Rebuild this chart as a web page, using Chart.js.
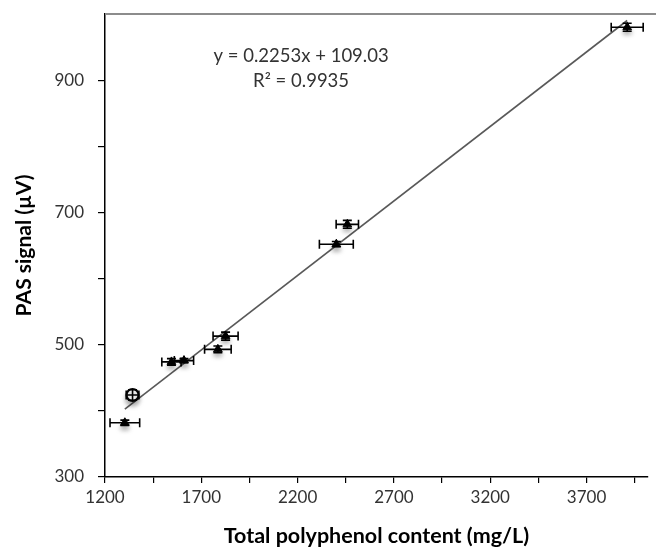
<!DOCTYPE html>
<html>
<head>
<meta charset="utf-8">
<script src="https://cdn.jsdelivr.net/npm/chart.js@4"></script>
<style>body{margin:0;background:#fff}</style>
</head>
<body>
<canvas id="pas-chart" width="656" height="549"></canvas>
<script>
// measured samples
const polyphenol = [1303, 1343, 1545, 1610, 1786, 1826, 2401, 2458, 3911];
const pasSignal = [382, 424, 474, 476, 493, 513, 652, 682, 980];
const polyphenolErr = [77, 33, 50, 50, 69, 65, 88, 58, 83];
const pasErr = [4, 8, 5, 3, 5, 6, 4, 6, 6];

// linear fit shown on the chart
const slope = 0.2253;
const intercept = 109.03;
const rSquared = 0.9935;

const xTickLabels = ['1200', '1700', '2200', '2700', '3200', '3700'];
const yTickLabels = ['300', '500', '700', '900'];

const points = polyphenol.map((x, i) => ({ x: x, y: pasSignal[i] }));
const minX = Math.min(...polyphenol);
const maxX = Math.max(...polyphenol);
const trendPoints = [minX, maxX].map(x => ({ x: x, y: slope * x + intercept }));

const markerShadow = {
    id: 'markerShadow',
    beforeDatasetDraw(chart, args) {
        if (args.index !== 0) return;
        const ctx = chart.ctx;
        ctx.save();
        ctx.shadowColor = 'rgba(0,0,0,0.35)';
        ctx.shadowBlur = 5;
        ctx.shadowOffsetY = 4;
    },
    afterDatasetDraw(chart, args) {
        if (args.index === 0) chart.ctx.restore();
    }
};

const errorBars = {
    id: 'errorBars',
    afterDatasetsDraw(chart) {
        const ctx = chart.ctx;
        const xs = chart.scales.x;
        const ys = chart.scales.y;
        const cap = 4.5;
        ctx.save();
        ctx.strokeStyle = '#000';
        ctx.lineWidth = 1.6;
        polyphenol.forEach((x, i) => {
            const px = xs.getPixelForValue(x);
            const py = ys.getPixelForValue(pasSignal[i]);
            const x0 = xs.getPixelForValue(x - polyphenolErr[i]);
            const x1 = xs.getPixelForValue(x + polyphenolErr[i]);
            const y0 = ys.getPixelForValue(pasSignal[i] - pasErr[i]);
            const y1 = ys.getPixelForValue(pasSignal[i] + pasErr[i]);
            ctx.beginPath();
            ctx.moveTo(x0, py); ctx.lineTo(x1, py);
            ctx.moveTo(x0, py - cap); ctx.lineTo(x0, py + cap);
            ctx.moveTo(x1, py - cap); ctx.lineTo(x1, py + cap);
            ctx.moveTo(px, y0); ctx.lineTo(px, y1);
            ctx.moveTo(px - cap, y0); ctx.lineTo(px + cap, y0);
            ctx.moveTo(px - cap, y1); ctx.lineTo(px + cap, y1);
            ctx.stroke();
        });
        ctx.restore();
    }
};

const frameAndLabel = {
    id: 'frameAndLabel',
    afterDraw(chart) {
        const ctx = chart.ctx;
        const area = chart.chartArea;
        ctx.save();
        ctx.strokeStyle = '#8c8c8c';
        ctx.lineWidth = 2;
        ctx.beginPath();
        ctx.moveTo(area.left, area.top);
        ctx.lineTo(chart.width, area.top);
        ctx.stroke();

        // equation label, placed like the spreadsheet text box
        const lx = chart.scales.x.getPixelForValue(2218);
        const ly = chart.scales.y.getPixelForValue(936);
        ctx.fillStyle = '#333';
        ctx.font = '18.5px Lato';
        ctx.textAlign = 'center';
        ctx.textBaseline = 'middle';
        ctx.fillText(`y = ${slope}x + ${intercept}`, lx, ly);
        ctx.fillText(`R² = ${rSquared}`, lx, ly + 25);
        ctx.restore();
    }
};

new Chart(document.getElementById('pas-chart').getContext('2d'), {
    type: 'scatter',
    data: {
        datasets: [{
            data: points,
            order: 1,
            pointStyle: polyphenol.map((_, i) => i === 1 ? 'circle' : 'triangle'),
            pointRadius: polyphenol.map((_, i) => i === 1 ? 6 : 5),
            pointBackgroundColor: polyphenol.map((_, i) => i === 1 ? '#fff' : '#000'),
            pointBorderColor: '#000',
            pointBorderWidth: polyphenol.map((_, i) => i === 1 ? 2.2 : 1)
        }, {
            type: 'line',
            data: trendPoints,
            order: 2,
            borderColor: '#595959',
            borderWidth: 1.6,
            pointRadius: 0,
            fill: false
        }]
    },
    options: {
        responsive: false,
        animation: false,
        layout: { padding: { top: 14, right: 0, left: 0, bottom: 0 } },
        plugins: {
            legend: { display: false },
            tooltip: { enabled: false }
        },
        scales: {
            x: {
                type: 'linear',
                position: 'bottom',
                min: 1200,
                max: 4018,
                afterBuildTicks: scale => {
                    const ticks = [];
                    for (let v = 1200; v <= 3950; v += 250) ticks.push({ value: v });
                    scale.ticks = ticks;
                },
                afterFit: scale => {
                    scale.height = 72;
                    scale.paddingLeft = 0;
                    scale.paddingRight = 0;
                },
                ticks: {
                    autoSkip: false,
                    maxRotation: 0,
                    padding: 4,
                    color: '#333',
                    font: { family: 'Lato', size: 17 },
                    callback: value => xTickLabels.includes(String(value)) ? String(value) : ''
                },
                grid: { drawOnChartArea: false, tickLength: 6, color: '#000', lineWidth: 1.2 },
                border: { color: '#000', width: 1.5 },
                title: {
                    display: true,
                    text: 'Total polyphenol content (mg/L)',
                    color: '#000',
                    font: { family: 'Lato', size: 21.5, weight: 'bold' },
                    padding: { top: 4, bottom: 0 }
                }
            },
            y: {
                min: 300,
                max: 1000,
                afterBuildTicks: scale => {
                    const ticks = [];
                    for (let v = 300; v <= 900; v += 100) ticks.push({ value: v });
                    scale.ticks = ticks;
                },
                afterFit: scale => {
                    scale.width = 105;
                    scale.paddingTop = 0;
                    scale.paddingBottom = 0;
                },
                ticks: {
                    autoSkip: false,
                    padding: 14,
                    color: '#333',
                    font: { family: 'Lato', size: 17 },
                    callback: value => yTickLabels.includes(String(value)) ? String(value) : ''
                },
                grid: { drawOnChartArea: false, tickLength: 7, color: '#000', lineWidth: 1.2 },
                border: { color: '#000', width: 1.5 },
                title: {
                    display: true,
                    text: 'PAS signal (µV)',
                    color: '#000',
                    font: { family: 'Lato', size: 21, weight: 'bold' },
                    padding: { top: 12, bottom: 0 }
                }
            }
        }
    },
    plugins: [markerShadow, errorBars, frameAndLabel]
});
</script>
</body>
</html>
